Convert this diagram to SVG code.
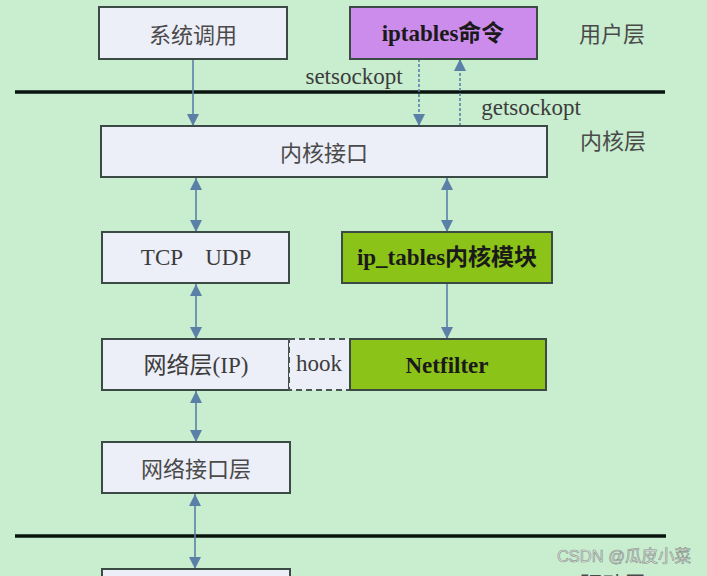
<svg xmlns="http://www.w3.org/2000/svg" width="707" height="576" viewBox="0 0 707 576">
<defs>
<style>
.box{fill:#eceef8;stroke:#3c4a46;stroke-width:2}
.purple{fill:#cc8cec}
.green{fill:#8cc318}
.hook{fill:#eceef8;stroke:#4a5550;stroke-width:2;stroke-dasharray:6,4}
.t{font-family:"Liberation Serif","Noto Sans CJK SC",serif;font-size:23px;fill:#3c3c3c;text-anchor:middle;dominant-baseline:central}
.cjk{font-family:"Noto Sans CJK SC","Liberation Sans",sans-serif;font-size:22px;fill:#4a4a4a;text-anchor:middle;dominant-baseline:central}
.b{font-weight:bold;fill:#1a1a1a}
.conn{stroke:#5a80a8;stroke-width:1.6;fill:none}
.dash{stroke-dasharray:3,2}
.layer{stroke:#0a140e;stroke-width:3.5}
</style>
<marker id="ah" markerUnits="userSpaceOnUse" markerWidth="12" markerHeight="14" viewBox="0 0 12 14" refX="12" refY="7" orient="auto-start-reverse">
<path d="M0,1 L12,7 L0,13 Z" fill="#5a80a8"/>
</marker>
</defs>
<rect width="707" height="576" fill="#c8edcf"/>

<g id="layers">
<line class="layer" x1="15" y1="92" x2="665" y2="92"/>
<line class="layer" x1="15" y1="536" x2="666" y2="536"/>
<text class="cjk" x="612" y="32">用户层</text>
<text class="cjk" x="613" y="139">内核层</text>
<text class="cjk" x="613" y="582">驱动层</text>
</g>

<g id="connectors">
<line class="conn" x1="193" y1="59" x2="193" y2="126" marker-end="url(#ah)"/>
<line class="conn dash" x1="419" y1="59" x2="419" y2="126" marker-end="url(#ah)"/>
<line class="conn dash" x1="460" y1="126" x2="460" y2="59" marker-end="url(#ah)"/>
<line class="conn" x1="196" y1="178" x2="196" y2="232" marker-start="url(#ah)" marker-end="url(#ah)"/>
<line class="conn" x1="447" y1="178" x2="447" y2="232" marker-start="url(#ah)" marker-end="url(#ah)"/>
<line class="conn" x1="196" y1="284" x2="196" y2="339" marker-start="url(#ah)" marker-end="url(#ah)"/>
<line class="conn" x1="447" y1="284" x2="447" y2="339" marker-end="url(#ah)"/>
<line class="conn" x1="196" y1="391" x2="196" y2="442" marker-start="url(#ah)" marker-end="url(#ah)"/>
<line class="conn" x1="195" y1="494" x2="195" y2="569" marker-start="url(#ah)" marker-end="url(#ah)"/>
<text class="t" x="354" y="76">setsockopt</text>
<text class="t" x="531" y="107">getsockopt</text>
</g>

<g id="syscall">
<rect class="box" x="99" y="7" width="188" height="52"/>
<text class="cjk" x="193" y="33">系统调用</text>
</g>
<g id="iptables-cmd">
<rect class="box purple" x="350" y="7" width="187" height="52"/>
<text class="t b" x="443" y="33">iptables命令</text>
</g>
<g id="kernel-if">
<rect class="box" x="101" y="126" width="446" height="51"/>
<text class="cjk" x="324" y="151">内核接口</text>
</g>
<g id="tcpudp">
<rect class="box" x="102" y="232" width="187" height="51"/>
<text class="t" x="196" y="257" xml:space="preserve">TCP    UDP</text>
</g>
<g id="ip-tables">
<rect class="box green" x="342" y="232" width="210" height="51"/>
<text class="t b" x="447" y="257">ip_tables内核模块</text>
</g>
<g id="ip">
<rect class="box" x="102" y="339" width="187" height="51"/>
<text class="t" x="196" y="365">网络层(IP)</text>
</g>
<g id="hook">
<rect class="hook" x="289" y="339" width="61" height="51"/>
<text class="t" x="319" y="363">hook</text>
</g>
<g id="netfilter">
<rect class="box green" x="350" y="339" width="196" height="51"/>
<text class="t b" x="447" y="365">Netfilter</text>
</g>
<g id="netif">
<rect class="box" x="102" y="442" width="188" height="51"/>
<text class="cjk" x="196" y="467">网络接口层</text>
</g>
<g id="driver">
<rect class="box" x="102" y="569" width="188" height="30"/>
</g>

<text x="624" y="556" font-family="'Liberation Sans','Noto Sans CJK SC',sans-serif" font-size="16.5" fill="#e4e8e4" stroke="#858f88" stroke-width="0.6" text-anchor="middle" dominant-baseline="central">CSDN @瓜皮小菜</text>
</svg>
